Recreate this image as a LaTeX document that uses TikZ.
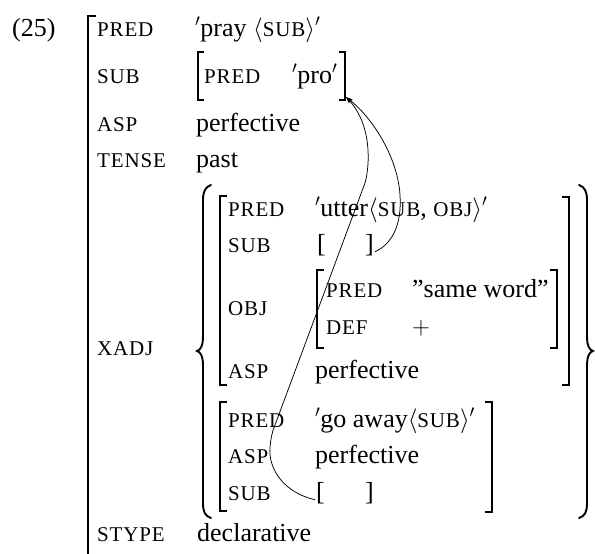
\documentclass[tikz,border=0pt]{standalone}
\usepackage{fontspec}
\setmainfont{Liberation Serif}
\newfontfamily\featfont[LetterSpace=4]{Liberation Serif}
\usetikzlibrary{arrows.meta}
\newcommand\ft[1]{{\featfont\fontsize{21}{25}\selectfont #1}}
\tikzset{
  val/.style={anchor=base west, inner sep=0pt, font=\fontsize{26}{30}\selectfont},
  feat/.style={anchor=base west, inner sep=0pt, font=\featfont\fontsize{21}{25}\selectfont},
  brk/.style={line width=1.1pt},
  outerbrk/.style={line width=1.5pt},
  brace/.style={line width=1.9pt, line cap=round},
  link/.style={line width=0.75pt, -{Stealth[length=7pt,width=4.5pt]}},
}
\begin{document}
\begin{tikzpicture}[x=1pt, y=-1pt]
\useasboundingbox[fill=white] (0,0) rectangle (595,554);

% example number
\node[val] (num) at (12,36) {(25)};

% outer f-structure bracket
\draw[outerbrk] (96,16) -- (88,16) -- (88,554);

% top-level attributes
\node[feat] (pred) at (97,36) {PRED};
\node[val]  (predv) at (195,36) {\(^\prime\)pray \(\langle\)\ft{SUB}\(\rangle^\prime\)};
\node[feat] (sub) at (97,83) {SUB};
\node[feat] (subpred) at (204,83) {PRED};
\node[val]  (pro) at (292,83) {\(^\prime\)pro\(^\prime\)};
\draw[brk] (204,52) -- (198,52) -- (198,100) -- (204,100);
\draw[brk] (339,52) -- (345,52) -- (345,100) -- (339,100);
\coordinate (proEnd) at (346,97);
\node[feat] (asp) at (97,131) {ASP};
\node[val]  (aspv) at (196,131) {perfective};
\node[feat] (tense) at (97,167) {TENSE};
\node[val]  (tensev) at (196,167) {past};
\node[feat] (xadj) at (97,355) {XADJ};
\node[feat] (stype) at (97,541) {STYPE};
\node[val]  (stypev) at (197,541) {declarative};

% set braces around the adjuncts
\draw[brace] (211,185) .. controls (205,187) and (203,192) .. (203,200) -- (203,336)
  .. controls (203,345) and (201,350) .. (197,351)
  .. controls (201,352) and (203,357) .. (203,366) -- (203,503)
  .. controls (203,512) and (205,516) .. (211,518);
\draw[brace] (579,185) .. controls (585,187) and (587,192) .. (587,200) -- (587,336)
  .. controls (587,345) and (589,350) .. (593,351)
  .. controls (589,352) and (587,357) .. (587,366) -- (587,503)
  .. controls (587,512) and (585,516) .. (579,518);

% first adjunct: utter
\draw[brk] (227,196) -- (220,196) -- (220,385) -- (227,385);
\draw[brk] (562,197) -- (569,197) -- (569,385) -- (562,385);
\node[feat] (upred) at (228,216) {PRED};
\node[val]  (upredv) at (315,216) {\(^\prime\)utter\(\langle\)\ft{SUB}, \ft{OBJ}\(\rangle^\prime\)};
\node[feat] (usub) at (228,252) {SUB};
\node[val]  (usubL) at (317,252) {[};
\node[val]  (usubR) at (365,252) {]};
\node[feat] (uobj) at (228,315) {OBJ};
\draw[brk] (324,270) -- (317,270) -- (317,348) -- (324,348);
\draw[brk] (550,270) -- (557,270) -- (557,348) -- (550,348);
\node[feat] (opred) at (326,297) {PRED};
\node[val]  (opredv) at (412,297) {''same word''};
\node[feat] (odef) at (326,334) {DEF};
\node[val]  (odefv) at (412,334) {\(+\)};
\node[feat] (uasp) at (228,378) {ASP};
\node[val]  (uaspv) at (315,378) {perfective};

% second adjunct: go away
\draw[brk] (227,402) -- (220,402) -- (220,511) -- (227,511);
\draw[brk] (485,402) -- (492,402) -- (492,512) -- (485,512);
\node[feat] (gpred) at (228,427) {PRED};
\node[val]  (gpredv) at (315,427) {\(^\prime\)go away\(\langle\)\ft{SUB}\(\rangle^\prime\)};
\node[feat] (gasp) at (228,463) {ASP};
\node[val]  (gaspv) at (315,463) {perfective};
\node[feat] (gsub) at (228,500) {SUB};
\node[val]  (gsubL) at (316,500) {[};
\node[val]  (gsubR) at (365,500) {]};

% control links to the shared subject
\draw[link] ([xshift=1pt,yshift=-7pt]usubR.east)
  .. controls (392,244) and (402,225) .. (400,195)
  .. controls (398,160) and (375,120) .. (proEnd);
\draw[link] ([xshift=-1pt,yshift=-7pt]gsubL.west)
  .. controls (285,493) and (268,470) .. (270,447)
  .. controls (271,438) and (272,432) .. (275,425)
  -- (365,183)
  .. controls (370,165) and (372,125) .. (proEnd);
\end{tikzpicture}
\end{document}
